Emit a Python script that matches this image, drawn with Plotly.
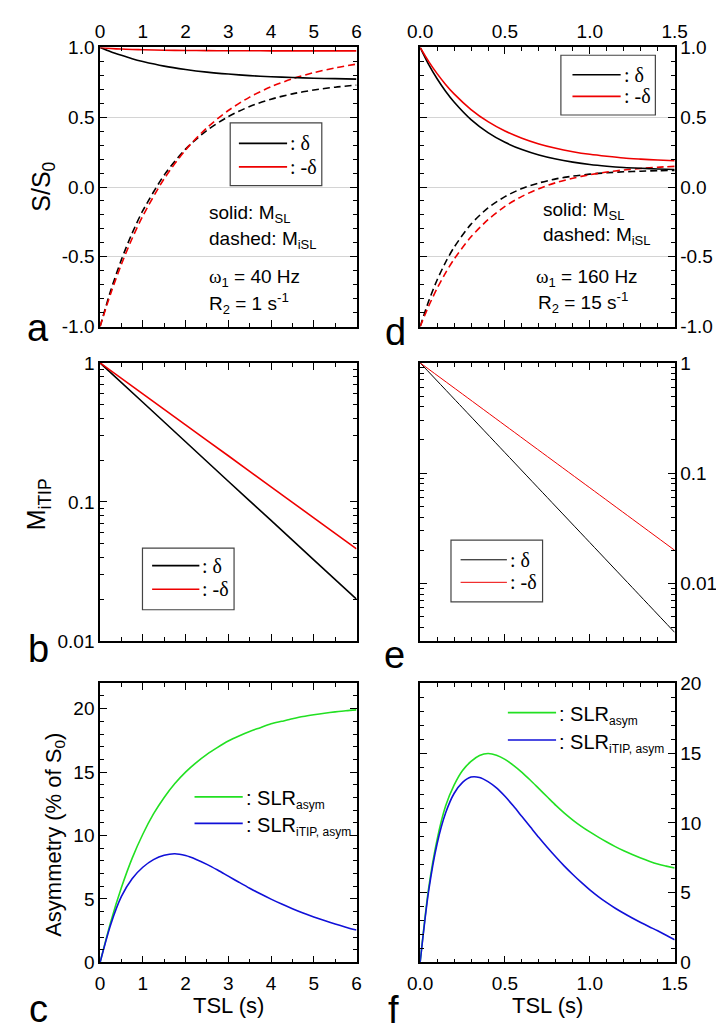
import math
import plotly.graph_objects as go

W, H = 724, 1036
SANS = "Liberation Sans, Arial, sans-serif"
SERIF = "Liberation Serif, Times New Roman, serif"

# ---------------- data ----------------
# panel a (omega1 = 40 Hz, R2 = 1 s^-1)
ta = [0, 0.25, 0.5, 0.75, 1, 1.5, 2, 2.5, 3, 3.5, 4, 4.5, 5, 5.5, 6]
a_msl_pos = [1.0, 0.969, 0.943, 0.919, 0.899, 0.866, 0.842, 0.823, 0.809, 0.798, 0.790, 0.784, 0.779, 0.776, 0.773]
a_msl_neg = [1.0, 0.993, 0.988, 0.985, 0.983, 0.980, 0.978, 0.977, 0.976, 0.976, 0.975, 0.975, 0.975, 0.975, 0.975]
a_misl_pos = [-1.0, -0.741, -0.520, -0.331, -0.170, 0.085, 0.271, 0.405, 0.504, 0.577, 0.629, 0.667, 0.695, 0.715, 0.730]
a_misl_neg = [-1.0, -0.762, -0.553, -0.369, -0.208, 0.059, 0.265, 0.424, 0.548, 0.644, 0.718, 0.775, 0.819, 0.853, 0.880]

# panel d (omega1 = 160 Hz, R2 = 15 s^-1)
td = [0, 0.05, 0.1, 0.15, 0.2, 0.3, 0.4, 0.5, 0.6, 0.7, 0.8, 0.9, 1.0, 1.1, 1.2, 1.3, 1.4, 1.5]
d_msl_pos = [1.0, 0.878, 0.775, 0.686, 0.609, 0.483, 0.390, 0.320, 0.268, 0.229, 0.200, 0.178, 0.161, 0.149, 0.140, 0.134, 0.129, 0.125]
d_msl_neg = [1.0, 0.900, 0.812, 0.735, 0.667, 0.555, 0.468, 0.401, 0.349, 0.308, 0.277, 0.253, 0.234, 0.220, 0.208, 0.200, 0.193, 0.188]
d_misl_pos = [-1.0, -0.819, -0.666, -0.539, -0.432, -0.266, -0.150, -0.069, -0.011, 0.029, 0.058, 0.078, 0.092, 0.102, 0.109, 0.113, 0.117, 0.119]
d_misl_neg = [-1.0, -0.854, -0.726, -0.615, -0.517, -0.357, -0.234, -0.139, -0.067, -0.012, 0.031, 0.063, 0.088, 0.107, 0.122, 0.133, 0.142, 0.148]

# panel b (log, M_iTIP)
tb = [0, 1, 2, 3, 4, 5, 6]
b_pos = [1.0, 0.521, 0.271, 0.141, 0.0737, 0.0384, 0.020]
b_neg = [1.0, 0.599, 0.358, 0.215, 0.1285, 0.0769, 0.046]

# panel e (log, M_iTIP)
te = [0, 0.25, 0.5, 0.75, 1.0, 1.25, 1.5]
e_pos = [1.0, 0.3915, 0.1533, 0.0600, 0.0235, 0.0092, 0.0036]
e_neg = [1.0, 0.521, 0.2714, 0.1414, 0.0737, 0.0384, 0.020]

# panel c (asymmetry, %)
tc = [0, 0.25, 0.5, 0.75, 1.0, 1.25, 1.5, 1.75, 2.0, 2.25, 2.5, 2.75, 3.0, 3.25, 3.5, 3.75, 4.0,
      4.25, 4.5, 4.75, 5.0, 5.25, 5.5, 5.75, 6.0]
c_slr = [0, 3.2, 5.9, 8.2, 10.1, 11.7, 13.0, 14.1, 15.0, 15.75, 16.4, 16.95, 17.45, 17.85, 18.2, 18.5,
         18.8, 19.0, 19.2, 19.38, 19.52, 19.64, 19.74, 19.83, 19.9]
c_itip = [0, 3.0, 5.2, 6.6, 7.5, 8.1, 8.45, 8.57, 8.42, 8.12, 7.73, 7.28, 6.8, 6.32, 5.85, 5.41, 4.99,
          4.6, 4.24, 3.9, 3.59, 3.3, 3.03, 2.78, 2.55]

# panel f (asymmetry, %)
tf = [0, 0.05, 0.1, 0.15, 0.2, 0.25, 0.3, 0.35, 0.4, 0.45, 0.5, 0.55, 0.6, 0.65, 0.7, 0.75, 0.8,
      0.85, 0.9, 0.95, 1.0, 1.05, 1.1, 1.15, 1.2, 1.25, 1.3, 1.35, 1.4, 1.45, 1.5]
f_slr = [0, 5.3, 8.8, 11.2, 12.7, 13.75, 14.4, 14.82, 14.97, 14.85, 14.55, 14.12, 13.62, 13.05, 12.45,
         11.85, 11.25, 10.7, 10.2, 9.75, 9.35, 8.98, 8.63, 8.3, 8.0, 7.73, 7.48, 7.25, 7.05, 6.9, 6.76]
f_itip = [0, 5.1, 8.5, 10.7, 12.1, 12.9, 13.28, 13.25, 12.95, 12.5, 11.9, 11.2, 10.45, 9.7, 8.95,
          8.23, 7.55, 6.9, 6.3, 5.73, 5.2, 4.72, 4.28, 3.88, 3.52, 3.18, 2.86, 2.56, 2.27, 1.95, 1.62]

# tick labels
S_VALS = [-1, -0.5, 0, 0.5, 1]
S_TEXT = ["-1.0", "-0.5", "0.0", "0.5", "1.0"]
LOG_VALS = [0.01, 0.1, 1]
LOG_TEXT = ["0.01", "0.1", "1"]

RED = "#ee0000"
BLACK = "#000000"
GREEN = "#22e022"
BLUE = "#1010d8"


def px(x):
    return x / W


def py(y):
    return 1 - y / H


XL = [px(82), px(348)]
XR = [px(414), px(678)]
YA = [py(315), py(30)]
YB = [py(636), py(352)]
YC = [py(964), py(679)]

fig = go.Figure()


def line(x, y, color, ax, dash="solid", width=1.6):
    fig.add_trace(go.Scatter(x=x, y=y, mode="lines", xaxis="x" + ax, yaxis="y" + ax,
                             line=dict(color=color, width=width, dash=dash, shape="spline", smoothing=0.8),
                             showlegend=False, hoverinfo="skip"))


DASH = "7px,4px"
# a
line(ta, a_misl_pos, BLACK, "", DASH)
line(ta, a_misl_neg, RED, "", DASH)
line(ta, a_msl_pos, BLACK, "")
line(ta, a_msl_neg, RED, "")
# b
line(tb, b_pos, BLACK, "2")
line(tb, b_neg, RED, "2")
# c
line(tc, c_slr, GREEN, "3")
line(tc, c_itip, BLUE, "3")
# d
line(td, d_misl_pos, BLACK, "4", DASH)
line(td, d_misl_neg, RED, "4", DASH)
line(td, d_msl_pos, BLACK, "4")
line(td, d_msl_neg, RED, "4")
# e
line(te, e_pos, BLACK, "5", width=1.0)
line(te, e_neg, RED, "5", width=1.0)
# f
line(tf, f_slr, GREEN, "6")
line(tf, f_itip, BLUE, "6")

TICKFONT = dict(family=SANS, size=19, color="black")


def axis(domain, anchor, rng, dtick=None, minor_dtick=None, side=None, labels=True,
         grid=False, log=False, tickvals=None, ticktext=None, minorvals=None, fmt=None, standoff=None):
    d = dict(domain=domain, anchor=anchor, range=rng, showline=True, linecolor="black",
             linewidth=1.5, mirror=True, ticks="inside", ticklen=7, tickwidth=1.2,
             tickcolor="black", zeroline=False, showgrid=grid, gridcolor="#d4d4d4", gridwidth=1,
             showticklabels=labels, tickfont=TICKFONT, fixedrange=True)
    if side:
        d["side"] = side
    if standoff is not None:
        d["ticklabelstandoff"] = standoff
    if log:
        d["type"] = "log"
        d["minor"] = dict(tickmode="array", tickvals=minorvals, ticks="inside", ticklen=4,
                          tickwidth=1, tickcolor="black", showgrid=False)
    else:
        d["minor"] = dict(dtick=minor_dtick, tick0=0, ticks="inside", ticklen=4, tickwidth=1,
                          tickcolor="black", showgrid=False)
    if tickvals is not None:
        d["tickmode"] = "array"
        d["tickvals"] = tickvals
        d["ticktext"] = ticktext
    else:
        d["dtick"] = dtick
        d["tick0"] = 0
    if fmt:
        d["tickformat"] = fmt
    return d


def overlay(main, main_id, opposite):
    o = {k: v for k, v in main.items() if k not in ("domain", "side", "mirror", "ticklabelstandoff")}
    o.update(overlaying=main_id, side=opposite, showticklabels=False, showline=False,
             showgrid=False)
    return o


minor_log_b = [m * 10 ** e for e in (-2, -1) for m in range(2, 10)]
minor_log_e = [m * 10 ** e for e in (-3, -2, -1) for m in range(2, 10) if m * 10 ** e >= 0.003]

axes = {
    "xaxis": (axis(XL, "y", [0, 6], 1, 0.5, side="top"), "x", "bottom"),
    "yaxis": (axis(YA, "x", [-1, 1], minor_dtick=0.1, grid=True, tickvals=S_VALS, ticktext=S_TEXT), "y", "right"),
    "xaxis2": (axis(XL, "y2", [0, 6], 1, 0.5, labels=False), "x2", "top"),
    "yaxis2": (axis(YB, "x2", [-2, 0], log=True, tickvals=LOG_VALS, ticktext=LOG_TEXT,
                    minorvals=minor_log_b), "y2", "right"),
    "xaxis3": (axis(XL, "y3", [0, 6], 1, 0.5, standoff=3), "x3", "top"),
    "yaxis3": (axis(YC, "x3", [0, 22], 5, 1), "y3", "right"),
    "xaxis4": (axis(XR, "y4", [0, 1.5], 0.5, 0.1, side="top", fmt=".1f"), "x4", "bottom"),
    "yaxis4": (axis(YA, "x4", [-1, 1], minor_dtick=0.1, side="right", grid=True, tickvals=S_VALS,
                    ticktext=S_TEXT), "y4", "left"),
    "xaxis5": (axis(XR, "y5", [0, 1.5], 0.5, 0.1, labels=False), "x5", "top"),
    "yaxis5": (axis(YB, "x5", [math.log10(0.003), 0], side="right", log=True, tickvals=LOG_VALS,
                    ticktext=LOG_TEXT, minorvals=minor_log_e), "y5", "left"),
    "xaxis6": (axis(XR, "y6", [0, 1.5], 0.5, 0.1, fmt=".1f", standoff=3), "x6", "top"),
    "yaxis6": (axis(YC, "x6", [0, 20], 5, 1, side="right"), "y6", "left"),
}

# opposite-side axes carrying the mirrored major and minor ticks
layout_axes = {}
idx = 7
for p in ["", "2", "3", "4", "5", "6"]:
    xs, xid, xopp = axes["xaxis" + p]
    ys, yid, yopp = axes["yaxis" + p]
    layout_axes["xaxis" + p] = xs
    layout_axes["yaxis" + p] = ys
    xo = overlay(xs, xid, xopp)
    yo = overlay(ys, yid, yopp)
    xo["anchor"] = yid
    yo["anchor"] = xid
    layout_axes[f"xaxis{idx}"] = xo
    layout_axes[f"yaxis{idx}"] = yo
    fig.add_trace(go.Scatter(x=[None], y=[None], xaxis=f"x{idx}", yaxis=yid, mode="lines",
                             showlegend=False, hoverinfo="skip"))
    fig.add_trace(go.Scatter(x=[None], y=[None], xaxis=xid, yaxis=f"y{idx}", mode="lines",
                             showlegend=False, hoverinfo="skip"))
    idx += 1

fig.update_layout(**layout_axes)

anns = []
shapes = []


def ann(text, x, y, size=18, xanchor="left", yanchor="middle", angle=0, family=SANS):
    anns.append(dict(text=text, x=px(x), y=py(y), xref="paper", yref="paper", showarrow=False,
                     xanchor=xanchor, yanchor=yanchor, textangle=angle,
                     font=dict(family=family, size=size, color="black")))


def seg(x0, x1, y, color, width=1.6):
    shapes.append(dict(type="line", xref="paper", yref="paper", x0=px(x0), x1=px(x1), y0=py(y), y1=py(y),
                       line=dict(color=color, width=width)))


def box(x0, x1, y0, y1):
    shapes.append(dict(type="rect", xref="paper", yref="paper", x0=px(x0), x1=px(x1), y0=py(y1), y1=py(y0),
                       line=dict(color="#444444", width=1.2), fillcolor="rgba(0,0,0,0)"))


# axis titles
ann("S/S<sub>0</sub>", 22, 172, 25, "center", "middle", -90)
ann("M<sub>iTIP</sub>", 18, 496, 25, "center", "middle", -90)
ann("Asymmetry (% of S<sub>0</sub>)", 35, 834, 22, "center", "middle", -90)
ann("TSL (s)", 215, 1008, 22, "center", "middle")
ann("TSL (s)", 546, 1008, 22, "center", "middle")

# panel letters
for letter, x, y in [("a", 18, 316), ("b", 18, 644), ("c", 18, 1012),
                     ("d", 388, 321), ("e", 387, 650), ("f", 386, 1013)]:
    ann(letter, x, y, 38, "center", "middle")

# text in panels a and d
OMEGA = "<span style='font-family:Liberation Serif'>ω</span>"
SUBS = "<sub><span style='font-size:13px'>%s</span></sub>"
ann("solid: M" + SUBS % "SL", 193, 200, 19)
ann("dashed: M" + SUBS % "iSL", 193, 227, 19)
ann(OMEGA + SUBS % "1" + " = 40 Hz", 193, 265, 19)
ann("R" + SUBS % "2" + " = 1 s<sup>-1</sup>", 193, 291, 19)

ann("solid: M" + SUBS % "SL", 539, 197, 19)
ann("dashed: M" + SUBS % "iSL", 539, 222, 19)
ann(OMEGA + SUBS % "1" + " = 160 Hz", 532, 265, 19)
ann("R" + SUBS % "2" + " = 15 s<sup>-1</sup>", 534, 290, 19)

# legends (delta / -delta)
legs = [
    (217, 312, 107, 171, 226, 276, 128, 152, 1.6),
    (560, 658, 38, 99, 572, 622, 58, 80, 1.6),
    (126, 221, 541, 604, 136, 185, 559, 583, 1.6),
    (446, 541, 533, 596, 456, 504, 553, 576, 1.0),
]
for bx0, bx1, by0, by1, lx0, lx1, ly1, ly2, wd in legs:
    box(bx0, bx1, by0, by1)
    seg(lx0, lx1, ly1, BLACK, wd)
    seg(lx0, lx1, ly2, RED, wd)
    ann(": δ", lx1 + 1, ly1, 20, family=SERIF)
    ann(": -δ", lx1 + 1, ly2, 20, family=SERIF)

# legends (asymmetry)
SUBL = "<sub><span style='font-size:12px'>%s</span></sub>"
for lx0, lx1, ly1, ly2 in [(180, 230, 795, 822), (505, 555, 709, 737)]:
    seg(lx0, lx1, ly1, GREEN)
    seg(lx0, lx1, ly2, BLUE)
    ann(": SLR" + SUBL % "asym", lx1 + 1, ly1 + 3, 20)
    ann(": SLR" + SUBL % "iTIP, asym", lx1 + 1, ly2 + 3, 20)

fig.update_layout(annotations=anns, shapes=shapes, width=W, height=H,
                  margin=dict(l=0, r=0, t=0, b=0), paper_bgcolor="white", plot_bgcolor="white",
                  showlegend=False, font=dict(family=SANS, color="black"))

fig.write_html("out.html")
